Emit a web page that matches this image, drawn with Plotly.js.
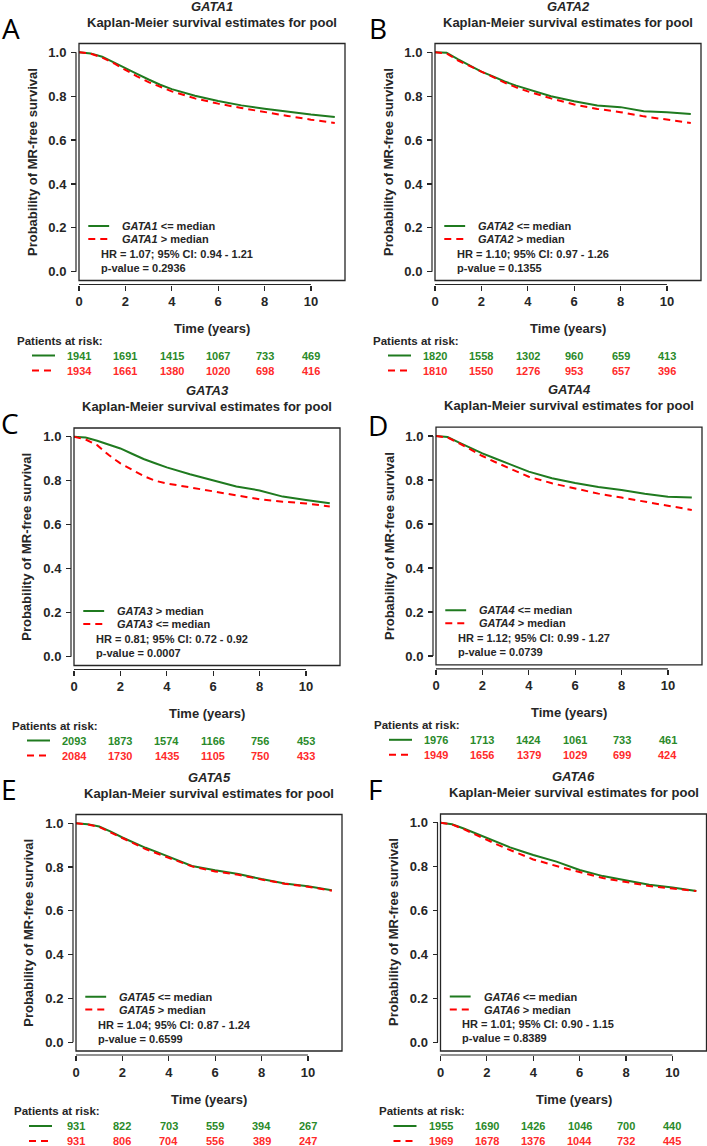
<!DOCTYPE html>
<html><head><meta charset="utf-8">
<script src="https://cdn.plot.ly/plotly-3.0.1.min.js"></script>
<style>html,body{margin:0;padding:0;background:#fff}</style>
</head><body><div id="chart" style="width:707px;height:1146px"></div>
<script>
// ---------------- DATA ----------------
const times = [0,0.5,1,1.5,2,2.5,3,3.5,4,5,6,7,8,9,10,11.03];

const gata1Green = [1,0.995,0.98,0.955,0.93,0.902,0.876,0.852,0.832,0.802,0.778,0.758,0.743,0.728,0.716,0.705];
const gata1Red   = [1,0.994,0.976,0.95,0.92,0.89,0.864,0.842,0.822,0.79,0.766,0.746,0.727,0.71,0.693,0.678];
const gata2Green = [1,0.998,0.968,0.94,0.912,0.89,0.867,0.848,0.832,0.8,0.777,0.757,0.75,0.731,0.727,0.719];
const gata2Red   = [1,0.995,0.962,0.937,0.912,0.886,0.862,0.84,0.822,0.79,0.762,0.742,0.727,0.708,0.693,0.678];
const gata3Green = [1,0.997,0.982,0.966,0.947,0.923,0.899,0.88,0.861,0.83,0.802,0.774,0.756,0.728,0.713,0.698];
const gata3Red   = [1,0.988,0.962,0.917,0.879,0.849,0.822,0.8,0.788,0.77,0.752,0.735,0.716,0.705,0.697,0.683];
const gata4Green = [1,0.995,0.97,0.945,0.921,0.9,0.879,0.858,0.838,0.808,0.786,0.768,0.755,0.737,0.724,0.72];
const gata4Red   = [1,0.993,0.967,0.937,0.909,0.884,0.861,0.838,0.815,0.785,0.762,0.738,0.72,0.703,0.683,0.664];
const gata5Green = [1,0.996,0.985,0.962,0.935,0.91,0.888,0.868,0.848,0.805,0.785,0.768,0.745,0.725,0.712,0.694];
const gata5Red   = [1,0.995,0.983,0.958,0.93,0.905,0.882,0.862,0.843,0.803,0.78,0.765,0.743,0.724,0.71,0.692];
const gata6Green = [1,0.993,0.974,0.952,0.929,0.908,0.888,0.87,0.853,0.823,0.785,0.757,0.737,0.718,0.705,0.689];
const gata6Red   = [1,0.992,0.971,0.946,0.921,0.898,0.876,0.853,0.833,0.803,0.775,0.748,0.73,0.712,0.7,0.689];

const riskTimes = [0,2,4,6,8,10];
const gata1RiskGreen = [1941,1691,1415,1067,733,469];
const gata1RiskRed   = [1934,1661,1380,1020,698,416];
const gata2RiskGreen = [1820,1558,1302,960,659,413];
const gata2RiskRed   = [1810,1550,1276,953,657,396];
const gata3RiskGreen = [2093,1873,1574,1166,756,453];
const gata3RiskRed   = [2084,1730,1435,1105,750,433];
const gata4RiskGreen = [1976,1713,1424,1061,733,461];
const gata4RiskRed   = [1949,1656,1379,1029,699,424];
const gata5RiskGreen = [931,822,703,559,394,267];
const gata5RiskRed   = [931,806,704,556,389,247];
const gata6RiskGreen = [1955,1690,1426,1046,700,440];
const gata6RiskRed   = [1969,1678,1376,1044,732,445];

const genes = ['GATA1','GATA2','GATA3','GATA4','GATA5','GATA6'];
const panelLetters = ['A','B','C','D','E','F'];
const greenGroup = ['<= median','<= median','> median','<= median','<= median','<= median'];
const redGroup   = ['> median','> median','<= median','> median','> median','> median'];
const hrTexts = ['HR = 1.07; 95% CI: 0.94 - 1.21','HR = 1.10; 95% CI: 0.97 - 1.26','HR = 0.81; 95% CI: 0.72 - 0.92',
                 'HR = 1.12; 95% CI: 0.99 - 1.27','HR = 1.04; 95% CI: 0.87 - 1.24','HR = 1.01; 95% CI: 0.90 - 1.15'];
const pTexts = ['p-value = 0.2936','p-value = 0.1355','p-value = 0.0007','p-value = 0.0739','p-value = 0.6599','p-value = 0.8389'];
const xTicks = [0,2,4,6,8,10];
const yTicks = [0,0.2,0.4,0.6,0.8,1.0];
const yTickText = ['0.0','0.2','0.4','0.6','0.8','1.0'];
const subtitle = 'Kaplan-Meier survival estimates for pool';
const yTitle = 'Probability of MR-free survival';
const xTitle = 'Time (years)';
const riskTitle = 'Patients at risk:';

const greenSeries = [gata1Green,gata2Green,gata3Green,gata4Green,gata5Green,gata6Green];
const redSeries = [gata1Red,gata2Red,gata3Red,gata4Red,gata5Red,gata6Red];
const riskGreen = [gata1RiskGreen,gata2RiskGreen,gata3RiskGreen,gata4RiskGreen,gata5RiskGreen,gata6RiskGreen];
const riskRed = [gata1RiskRed,gata2RiskRed,gata3RiskRed,gata4RiskRed,gata5RiskRed,gata6RiskRed];

// ---------------- LAYOUT GEOMETRY ----------------
const W = 707, H = 1146;
const boxes = [
  {L:79,  R:345,   T:43.5,  B:280.5, lx:11,  ly:27.5},
  {L:435, R:701,   T:43.5,  B:280.5, lx:378, ly:27.5},
  {L:74,  R:340,   T:428,   B:665.5, lx:10,  ly:423},
  {L:436, R:702,   T:427.2, B:664.8, lx:378, ly:425},
  {L:76,  R:342,   T:814.5, B:1051,  lx:9,   ly:789},
  {L:440.5,R:706.5,T:814,   B:1051,  lx:375, ly:789}
];
const XMAX = 11.47, YMIN = -0.04, YMAX = 1.04;
const GREEN_LINE = '#1f7a1f', RED_LINE = '#ff0000';
const GREEN_TXT = '#2a8a2a', RED_TXT = '#ff2a2a';
const FONT = 'Liberation Sans, Arial, sans-serif';
const DARK = '#262626';

const data = [];
const layout = {
  width: W, height: H,
  margin: {l:0, r:0, t:0, b:0},
  paper_bgcolor: '#fff', plot_bgcolor: '#fff',
  showlegend: false,
  shapes: [], annotations: []
};

boxes.forEach((b, i) => {
  const sfx = i === 0 ? '' : String(i + 1);
  const xa = 'x' + sfx, ya = 'y' + sfx;
  const xd = xa + ' domain', yd = ya + ' domain';
  const bw = b.R - b.L, bh = b.B - b.T;
  const dx = p => p / bw, dy = p => p / bh;

  data.push({x: times, y: greenSeries[i], xaxis: xa, yaxis: ya, type: 'scatter', mode: 'lines',
    line: {color: GREEN_LINE, width: 2}, hoverinfo: 'skip'});
  data.push({x: times, y: redSeries[i], xaxis: xa, yaxis: ya, type: 'scatter', mode: 'lines',
    line: {color: RED_LINE, width: 2, dash: '7px,5px'}, hoverinfo: 'skip'});

  layout['xaxis' + sfx] = {
    domain: [b.L / W, b.R / W], range: [0, XMAX], anchor: 'free', position: 1 - (b.B + 4) / H,
    tickvals: xTicks, ticks: 'outside', ticklen: 5, tickwidth: 1.2, tickcolor: DARK,
    showline: false, showgrid: false, zeroline: false, fixedrange: true,
    tickfont: {family: FONT, size: 13, color: DARK, weight: 'bold'}
  };
  layout['yaxis' + sfx] = {
    domain: [1 - b.B / H, 1 - b.T / H], range: [YMIN, YMAX], anchor: 'free', position: (b.L - 3) / W,
    tickvals: yTicks, ticktext: yTickText, ticks: 'outside', ticklen: 5, tickwidth: 1.2, tickcolor: DARK,
    ticklabelstandoff: 2,
    showline: false, showgrid: false, zeroline: false, fixedrange: true,
    tickfont: {family: FONT, size: 13, color: DARK, weight: 'bold'}
  };

  // box
  layout.shapes.push({type: 'rect', xref: xd, yref: yd, x0: 0, x1: 1, y0: 0, y1: 1,
    line: {color: DARK, width: 1.3}});
  // detached axis lines (first to last tick)
  layout.shapes.push({type: 'line', xref: xd, yref: yd, x0: 0, x1: 10 / XMAX, y0: -dy(4), y1: -dy(4),
    line: {color: DARK, width: 1.2}});
  layout.shapes.push({type: 'line', xref: xd, yref: yd, x0: -dx(3), x1: -dx(3),
    y0: (0 - YMIN) / (YMAX - YMIN), y1: (1 - YMIN) / (YMAX - YMIN), line: {color: DARK, width: 1.2}});

  // legend samples (data coords inside plot)
  layout.shapes.push({type: 'line', xref: xa, yref: ya, x0: 0.4, x1: 1.3, y0: 0.208, y1: 0.208,
    line: {color: GREEN_LINE, width: 2}});
  layout.shapes.push({type: 'line', xref: xa, yref: ya, x0: 0.4, x1: 1.3, y0: 0.149, y1: 0.149,
    line: {color: RED_LINE, width: 2, dash: '7px,5px'}});

  // risk table line samples
  layout.shapes.push({type: 'line', xref: xd, yref: yd, x0: -dx(47), x1: -dx(24), y0: -dy(75), y1: -dy(75),
    line: {color: GREEN_LINE, width: 2}});
  layout.shapes.push({type: 'line', xref: xd, yref: yd, x0: -dx(47), x1: -dx(24), y0: -dy(90), y1: -dy(90),
    line: {color: RED_LINE, width: 2, dash: '7px,5px'}});

  const A = layout.annotations;
  const esc = s => s.replace(/</g, '&lt;').replace(/>/g, '&gt;');
  // panel letter
  A.push({xref: 'paper', yref: 'paper', x: b.lx / W, y: 1 - b.ly / H, xanchor: 'center', yanchor: 'middle',
    text: panelLetters[i], showarrow: false, font: {family: 'Open Sans, Noto Sans, sans-serif', size: 28, color: '#000'}});
  // titles
  A.push({xref: xd, yref: yd, x: 0.5, y: 1 + dy(37.5), xanchor: 'center', yanchor: 'middle',
    text: '<i>' + genes[i] + '</i>', showarrow: false, font: {family: FONT, size: 13, color: DARK, weight: 'bold'}});
  A.push({xref: xd, yref: yd, x: 0.5, y: 1 + dy(21.5), xanchor: 'center', yanchor: 'middle',
    text: subtitle, showarrow: false, font: {family: FONT, size: 13, color: DARK, weight: 'bold'}});
  // axis titles
  A.push({xref: xd, yref: yd, x: -dx(47), y: 0.5, xanchor: 'center', yanchor: 'middle', textangle: -90,
    text: yTitle, showarrow: false, font: {family: FONT, size: 13, color: DARK, weight: 'bold'}});
  A.push({xref: xd, yref: yd, x: 0.5, y: -dy(48), xanchor: 'center', yanchor: 'middle',
    text: xTitle, showarrow: false, font: {family: FONT, size: 13, color: DARK, weight: 'bold'}});
  // legend text
  A.push({xref: xa, yref: ya, x: 1.77, y: 0.208, xanchor: 'left', yanchor: 'middle',
    text: '<i>' + genes[i] + '</i> ' + esc(greenGroup[i]), showarrow: false,
    font: {family: FONT, size: 11, color: DARK, weight: 'bold'}});
  A.push({xref: xa, yref: ya, x: 1.77, y: 0.149, xanchor: 'left', yanchor: 'middle',
    text: '<i>' + genes[i] + '</i> ' + esc(redGroup[i]), showarrow: false,
    font: {family: FONT, size: 11, color: DARK, weight: 'bold'}});
  A.push({xref: xa, yref: ya, x: 0.86, y: 0.081, xanchor: 'left', yanchor: 'middle',
    text: hrTexts[i], showarrow: false, font: {family: FONT, size: 11, color: DARK, weight: 'bold'}});
  A.push({xref: xa, yref: ya, x: 0.86, y: 0.017, xanchor: 'left', yanchor: 'middle',
    text: pTexts[i], showarrow: false, font: {family: FONT, size: 11, color: DARK, weight: 'bold'}});
  // risk table
  A.push({xref: xd, yref: yd, x: -dx(64), y: -dy(60), xanchor: 'left', yanchor: 'middle',
    text: riskTitle, showarrow: false, font: {family: FONT, size: 11.5, color: DARK, weight: 'bold'}});
  riskTimes.forEach((t, k) => {
    A.push({xref: xa, yref: yd, x: t, y: -dy(75), xanchor: 'center', yanchor: 'middle',
      text: String(riskGreen[i][k]), showarrow: false, font: {family: FONT, size: 11, color: GREEN_TXT, weight: 'bold'}});
    A.push({xref: xa, yref: yd, x: t, y: -dy(90), xanchor: 'center', yanchor: 'middle',
      text: String(riskRed[i][k]), showarrow: false, font: {family: FONT, size: 11, color: RED_TXT, weight: 'bold'}});
  });
});

Plotly.newPlot('chart', data, layout, {staticPlot: true, displayModeBar: false});
</script>
</body></html>
